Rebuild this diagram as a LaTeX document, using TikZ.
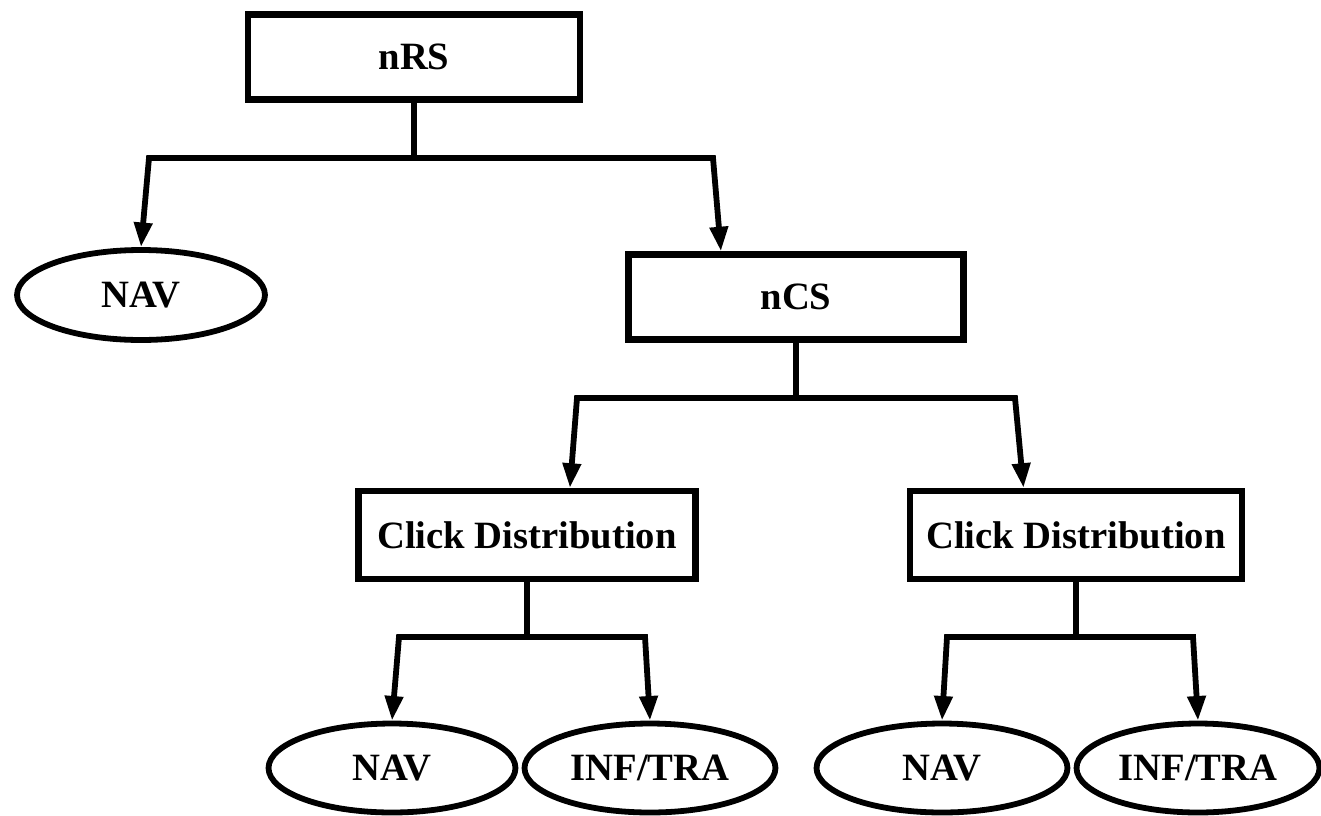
\documentclass[tikz,border=0pt]{standalone}
\usepackage{fontspec}
\setmainfont{Liberation Serif}
\usetikzlibrary{shapes.geometric}
\usetikzlibrary{arrows.meta}
\usetikzlibrary{calc}
\tikzset{
  box/.style={draw, line width=3.6pt, inner sep=0pt, minimum width=6.65cm, minimum height=1.7cm,
    font=\bfseries\fontsize{22}{26}\selectfont},
  oval/.style={draw, ellipse, line width=3.3pt, inner sep=0pt, minimum width=4.96cm, minimum height=1.78cm,
    font=\bfseries\fontsize{22}{26}\selectfont},
  arr/.style={line width=3.3pt, line join=miter, -{Triangle[length=14pt,width=10pt]}}
}

\begin{document}
\begin{tikzpicture}[x=0.02cm, y=-0.02cm]
    \useasboundingbox (0,0) rectangle (1321,815);

    \node[box] (nrs) at (414,57) {nRS};
    \node[oval, minimum height=1.8cm] (nav) at (141,295) {NAV};
    \node[box, minimum width=6.7cm] (ncs) at (796,297) {nCS};

    \node[box, minimum width=6.74cm, minimum height=1.76cm] (cdl) at (527,535) {Click Distribution};
    \node[box, minimum height=1.76cm] (cdr) at (1076,535) {Click Distribution};

    \node[oval, minimum width=4.94cm] (navl) at (392,768) {NAV};
    \node[oval, minimum width=5.02cm] (infl) at (650,768) {INF/TRA};
    \node[oval, minimum width=5.02cm] (navr) at (942,768) {NAV};
    \node[oval, minimum width=4.86cm] (infr) at (1198,768) {INF/TRA};

    % nRS -> NAV / nCS
    \coordinate (nrsl) at (149,158);
    \coordinate (nrsr) at (713,158);
    \draw[line width=3.3pt] (nrs.south) -- (nrs.south |- nrsl);
    \draw[arr] (nrsr) -- (nrsl) -- (nav.north);
    \draw[arr] (nrsl) -- (nrsr) -- ($(ncs.north west)!0.28!(ncs.north east)$);

    % nCS -> click distributions
    \coordinate (ncsl) at (577,398);
    \coordinate (ncsr) at (1015,398);
    \draw[line width=3.3pt] (ncs.south) -- (ncs.south |- ncsl);
    \draw[arr] (ncsr) -- (ncsl) -- ($(cdl.north west)!0.625!(cdl.north east)$);
    \draw[arr] (ncsl) -- (ncsr) -- ($(cdr.north west)!0.345!(cdr.north east)$);

    % left click distribution
    \coordinate (cdll) at (399,637);
    \coordinate (cdlr) at (645,637);
    \draw[line width=3.3pt] (cdl.south) -- (cdl.south |- cdll);
    \draw[arr] (cdlr) -- (cdll) -- (navl.north);
    \draw[arr] (cdll) -- (cdlr) -- (infl.north);

    % right click distribution
    \coordinate (cdrl) at (947,637);
    \coordinate (cdrr) at (1193,637);
    \draw[line width=3.3pt] (cdr.south) -- (cdr.south |- cdrl);
    \draw[arr] (cdrr) -- (cdrl) -- (navr.north);
    \draw[arr] (cdrl) -- (cdrr) -- (infr.north);
\end{tikzpicture}
\end{document}
